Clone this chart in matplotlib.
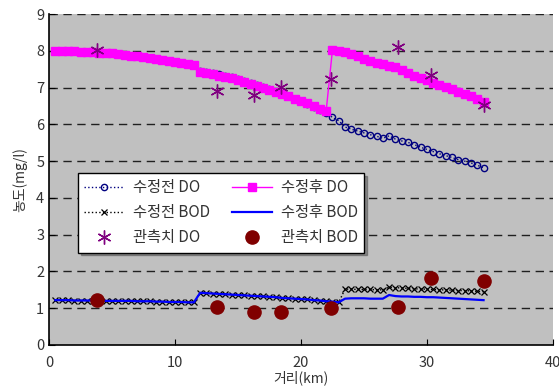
import matplotlib
matplotlib.use("Agg")
import matplotlib.pyplot as plt
import numpy as np

plt.rcParams['font.family'] = ['Noto Sans CJK KR', 'DejaVu Sans']

# distance (km)
dist = [0.5, 1.0, 1.5, 2.0, 2.5, 3.0, 3.5, 4.0, 4.5, 5.0, 5.5, 6.0, 6.5, 7.0, 7.5, 8.0,
        8.5, 9.0, 9.5, 10.0, 10.5, 11.0, 11.5, 12.0, 12.5, 13.0, 13.5, 14.0, 14.5, 15.0,
        15.5, 16.0, 16.5, 17.0, 17.5, 18.0, 18.5, 19.0, 19.5, 20.0, 20.5, 21.0, 21.5,
        22.0, 22.5, 23.0, 23.5, 24.0, 24.5, 25.0, 25.5, 26.0, 26.5, 27.0, 27.5, 28.0,
        28.5, 29.0, 29.5, 30.0, 30.5, 31.0, 31.5, 32.0, 32.5, 33.0, 33.5, 34.0, 34.5]

do_pre = [8.00, 8.00, 7.99, 7.99, 7.98, 7.97, 7.96, 7.95, 7.94, 7.93, 7.91, 7.89, 7.87,
          7.85, 7.83, 7.81, 7.78, 7.76, 7.73, 7.70, 7.67, 7.64, 7.61,
          7.46, 7.42, 7.39, 7.36, 7.32, 7.28, 7.23, 7.18, 7.13, 7.07, 7.01, 6.95, 6.89,
          6.83, 6.77, 6.70, 6.63, 6.55, 6.47, 6.40, 6.32,
          6.19, 6.10, 5.93, 5.87, 5.82, 5.77, 5.72, 5.68, 5.62, 5.69, 5.60, 5.55, 5.51,
          5.45, 5.38, 5.32, 5.26, 5.20, 5.15, 5.10, 5.04, 5.00, 4.95, 4.89, 4.82]

do_post = [8.00, 8.00, 7.99, 7.99, 7.98, 7.97, 7.96, 7.95, 7.94, 7.93, 7.91, 7.89, 7.87,
           7.85, 7.83, 7.81, 7.78, 7.76, 7.73, 7.70, 7.67, 7.64, 7.61,
           7.43, 7.39, 7.36, 7.33, 7.29, 7.25, 7.20, 7.15, 7.10, 7.05, 6.99, 6.93, 6.87,
           6.82, 6.76, 6.70, 6.64, 6.57, 6.50, 6.43, 6.36,
           8.02, 8.01, 7.97, 7.91, 7.85, 7.78, 7.73, 7.68, 7.63, 7.60, 7.55, 7.48, 7.40,
           7.33, 7.27, 7.20, 7.13, 7.07, 7.01, 6.95, 6.88, 6.82, 6.76, 6.69, 6.62]

bod_pre = [1.22, 1.22, 1.22, 1.21, 1.21, 1.21, 1.21, 1.20, 1.20, 1.20, 1.20, 1.20, 1.20,
           1.19, 1.19, 1.19, 1.18, 1.18, 1.17, 1.17, 1.17, 1.16, 1.16,
           1.42, 1.41, 1.40, 1.39, 1.38, 1.37, 1.36, 1.35, 1.34, 1.33, 1.32, 1.31, 1.30,
           1.28, 1.27, 1.26, 1.25, 1.24, 1.22, 1.21, 1.19, 1.18, 1.16,
           1.52, 1.52, 1.51, 1.51, 1.51, 1.50, 1.50, 1.57, 1.56, 1.55, 1.54, 1.53, 1.52,
           1.52, 1.51, 1.50, 1.50, 1.49, 1.48, 1.48, 1.47, 1.46, 1.45]

bod_post = [1.22, 1.22, 1.22, 1.21, 1.21, 1.21, 1.21, 1.20, 1.20, 1.20, 1.20, 1.20, 1.20,
            1.19, 1.19, 1.19, 1.18, 1.18, 1.17, 1.17, 1.17, 1.16, 1.16,
            1.42, 1.41, 1.40, 1.39, 1.38, 1.37, 1.36, 1.35, 1.34, 1.33, 1.32, 1.31, 1.30,
            1.28, 1.27, 1.26, 1.25, 1.24, 1.22, 1.21, 1.19, 1.18, 1.16,
            1.26, 1.27, 1.27, 1.27, 1.26, 1.26, 1.26, 1.36, 1.33, 1.32, 1.32, 1.31, 1.31,
            1.30, 1.30, 1.29, 1.28, 1.27, 1.26, 1.25, 1.24, 1.23, 1.22]

obs_x = [3.8, 13.3, 16.3, 18.4, 22.4, 27.7, 30.3, 34.5]
obs_do = [8.02, 6.92, 6.81, 7.03, 7.24, 8.10, 7.35, 6.52]
obs_bod = [1.23, 1.02, 0.91, 0.91, 1.01, 1.02, 1.82, 1.73]

labels = ['수정전 DO', '수정후 DO', '수정전 BOD', '수정후 BOD', '관측치 DO', '관측치 BOD']
xticks = [0, 10, 20, 30, 40]
yticks = [0, 1, 2, 3, 4, 5, 6, 7, 8, 9]

fig = plt.figure(figsize=(5.59, 3.92), dpi=100)
ax = fig.add_axes([0.0877, 0.1199, 0.9013, 0.8441])
ax.set_facecolor('#C0C0C0')

for yv in yticks[1:]:
    ax.axhline(yv, color='#202020', lw=1.0, dashes=(6, 4), zorder=1)

h_dopre, = ax.plot(dist, do_pre, linestyle=':', color='#000080', lw=1.0,
                   marker='o', ms=4.5, mfc='none', mec='#000080', mew=1.0, zorder=3)
h_dopost, = ax.plot(dist, do_post, linestyle='-', color='#FF00FF', lw=1.0,
                    marker='s', ms=6, mfc='#FF00FF', mec='#FF00FF', zorder=4)
h_bodpre, = ax.plot(dist, bod_pre, linestyle=':', color='black', lw=1.0,
                    marker='x', ms=5, mec='black', mew=0.9, zorder=3)
h_bodpost, = ax.plot(dist, bod_post, linestyle='-', color='#0000FF', lw=1.6, zorder=4)
h_obsdo, = ax.plot(obs_x, obs_do, linestyle='none', marker=(6, 2, 0), ms=10,
                   mec='#800080', mew=1.0, zorder=5)
h_obsbod, = ax.plot(obs_x, obs_bod, linestyle='none', marker='o', ms=9.5,
                    mfc='#800000', mec='#800000', zorder=5)

ax.set_xlim(0, 40)
ax.set_ylim(0, 9)
ax.set_xticks(xticks)
ax.set_yticks(yticks)
ax.tick_params(direction='in', length=4, colors='black', labelcolor='#333333',
               labelsize=10.5)
ax.tick_params(axis='x', pad=8)
for s in ['top', 'right']:
    ax.spines[s].set_visible(False)
ax.spines['left'].set_linewidth(1.2)
ax.spines['bottom'].set_linewidth(1.2)

ax.set_xlabel('거리(km)', fontsize=10, color='#333333', labelpad=0)
ax.set_ylabel('농도(mg/l)', fontsize=10, color='#333333', labelpad=6)

handles = [h_dopre, h_bodpre, h_obsdo, h_dopost, h_bodpost, h_obsbod]
hl = [labels[0], labels[2], labels[4], labels[1], labels[3], labels[5]]
leg = ax.legend(handles, hl, ncol=2, loc='upper left',
                bbox_to_anchor=(0.0575, 0.52), fontsize=11, frameon=True,
                fancybox=False, shadow=True, edgecolor='black', facecolor='white',
                framealpha=1, borderaxespad=0, handlelength=2.6, columnspacing=1.4,
                labelspacing=0.52, borderpad=0.42, handletextpad=0.6)
leg.get_frame().set_linewidth(1.0)
for t in leg.get_texts():
    t.set_color('#333333')

fig.savefig('out.png', dpi=100)
